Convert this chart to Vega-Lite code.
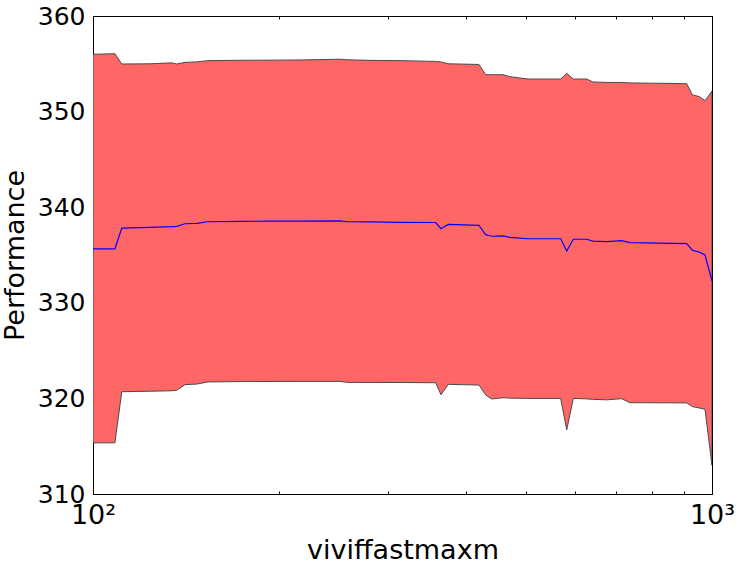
{
  "$schema": "https://vega.github.io/schema/vega-lite/v6.json",
  "width": 619,
  "height": 478,
  "autosize": {"type": "none"},
  "padding": {"left": 93, "top": 16, "right": 25, "bottom": 77},
  "background": "white",
  "config": {
    "view": {"stroke": "black", "strokeWidth": 1},
    "font": "DejaVu Sans",
    "axis": {
      "domain": false,
      "grid": false,
      "labelFont": "DejaVu Sans",
      "labelFontSize": 25,
      "labelColor": "black",
      "titleFont": "DejaVu Sans",
      "titleFontSize": 27,
      "titleFontWeight": "normal",
      "titleColor": "black",
      "tickColor": "black",
      "tickWidth": 1
    }
  },
  "data": {
    "values": [
      {"x": 100, "mean": 335.65, "upper": 356.0, "lower": 315.35},
      {"x": 108.5, "mean": 335.65, "upper": 356.05, "lower": 315.35},
      {"x": 111.3, "mean": 337.82, "upper": 354.98, "lower": 320.7},
      {"x": 123.6, "mean": 337.88, "upper": 355.0, "lower": 320.75},
      {"x": 134.0, "mean": 337.96, "upper": 355.1, "lower": 320.8},
      {"x": 136.5, "mean": 338.0, "upper": 354.98, "lower": 320.85},
      {"x": 140.8, "mean": 338.27, "upper": 355.15, "lower": 321.44},
      {"x": 147.1, "mean": 338.3, "upper": 355.2, "lower": 321.5},
      {"x": 153.4, "mean": 338.48, "upper": 355.33, "lower": 321.72},
      {"x": 172.8, "mean": 338.52, "upper": 355.37, "lower": 321.76},
      {"x": 193.2, "mean": 338.54, "upper": 355.38, "lower": 321.77},
      {"x": 216.0, "mean": 338.55, "upper": 355.4, "lower": 321.78},
      {"x": 250.6, "mean": 338.56, "upper": 355.48, "lower": 321.78},
      {"x": 257.0, "mean": 338.48, "upper": 355.42, "lower": 321.68},
      {"x": 280.2, "mean": 338.46, "upper": 355.36, "lower": 321.67},
      {"x": 313.3, "mean": 338.42, "upper": 355.33, "lower": 321.66},
      {"x": 357.8, "mean": 338.4, "upper": 355.25, "lower": 321.64},
      {"x": 364.9, "mean": 337.75, "upper": 355.19, "lower": 320.39},
      {"x": 374.9, "mean": 338.2, "upper": 355.0, "lower": 321.47},
      {"x": 420.3, "mean": 338.1, "upper": 354.93, "lower": 321.4},
      {"x": 430.9, "mean": 337.13, "upper": 353.86, "lower": 320.36},
      {"x": 440.7, "mean": 336.96, "upper": 353.86, "lower": 319.94},
      {"x": 459.6, "mean": 337.0, "upper": 353.86, "lower": 320.07},
      {"x": 471.7, "mean": 336.85, "upper": 353.65, "lower": 320.03},
      {"x": 504.3, "mean": 336.7, "upper": 353.41, "lower": 320.0},
      {"x": 537.3, "mean": 336.7, "upper": 353.41, "lower": 320.0},
      {"x": 569.6, "mean": 336.7, "upper": 353.41, "lower": 320.0},
      {"x": 582.5, "mean": 335.42, "upper": 354.0, "lower": 316.7},
      {"x": 597.0, "mean": 336.65, "upper": 353.41, "lower": 320.0},
      {"x": 627.6, "mean": 336.65, "upper": 353.41, "lower": 319.95},
      {"x": 641.8, "mean": 336.46, "upper": 353.1, "lower": 319.9},
      {"x": 675.9, "mean": 336.4, "upper": 353.05, "lower": 319.85},
      {"x": 714.7, "mean": 336.5, "upper": 353.05, "lower": 319.97},
      {"x": 737.1, "mean": 336.29, "upper": 353.0, "lower": 319.55},
      {"x": 824.1, "mean": 336.24, "upper": 352.96, "lower": 319.54},
      {"x": 910.2, "mean": 336.18, "upper": 352.92, "lower": 319.53},
      {"x": 929.5, "mean": 335.5, "upper": 351.74, "lower": 319.14},
      {"x": 954.0, "mean": 335.3, "upper": 351.57, "lower": 319.0},
      {"x": 974.3, "mean": 335.0, "upper": 351.14, "lower": 318.86},
      {"x": 1000, "mean": 332.3, "upper": 352.15, "lower": 313.0}
    ]
  },
  "resolve": {"axis": {"x": "independent", "y": "independent"}},
  "layer": [
    {
      "mark": {"type": "area", "fill": "#ff6666", "fillOpacity": 1, "stroke": "#4a4a4a", "strokeWidth": 1, "clip": true},
      "encoding": {
        "x": {
          "field": "x", "type": "quantitative",
          "scale": {"type": "log", "domain": [100, 1000], "nice": false},
          "axis": {
            "orient": "bottom",
            "title": "viviffastmaxm",
            "titlePadding": 6,
            "values": [100, 200, 300, 400, 500, 600, 700, 800, 900, 1000],
            "tickSize": {"condition": {"test": "datum.value == 100 || datum.value == 1000", "value": -6}, "value": -3},
            "labelPadding": 14,
            "labelFontSize": 27,
            "labelFlush": false,
            "labelOverlap": false,
            "labelExpr": "datum.value == 100 ? '10²' : (datum.value == 1000 ? '10³' : '')"
          }
        },
        "y": {
          "field": "upper", "type": "quantitative",
          "scale": {"domain": [310, 360], "nice": false, "zero": false},
          "axis": {
            "orient": "left",
            "title": "Performance",
            "titlePadding": 8,
            "values": [310, 320, 330, 340, 350, 360],
            "tickSize": -6,
            "labelPadding": 14
          }
        },
        "y2": {"field": "lower"}
      }
    },
    {
      "mark": {"type": "line", "color": "#0000ff", "strokeWidth": 1.2, "clip": true},
      "encoding": {
        "x": {
          "field": "x", "type": "quantitative",
          "scale": {"type": "log", "domain": [100, 1000], "nice": false},
          "axis": {
            "orient": "top",
            "title": null,
            "labels": false,
            "values": [100, 200, 300, 400, 500, 600, 700, 800, 900, 1000],
            "tickSize": {"condition": {"test": "datum.value == 100 || datum.value == 1000", "value": -6}, "value": -3}
          }
        },
        "y": {
          "field": "mean", "type": "quantitative",
          "scale": {"domain": [310, 360], "nice": false, "zero": false},
          "axis": {
            "orient": "right",
            "title": null,
            "labels": false,
            "values": [310, 320, 330, 340, 350, 360],
            "tickSize": -6
          }
        }
      }
    }
  ]
}
